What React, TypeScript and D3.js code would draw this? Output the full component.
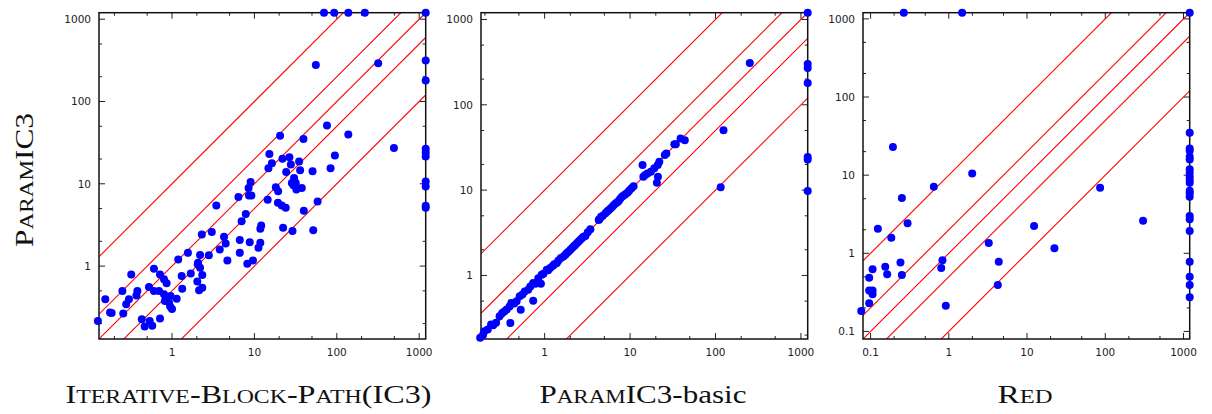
import React from "react";
import * as d3 from "d3";

// ---------- data ----------
const ibpPoints: [number, number][] = [
  [70, 1200], [93, 1200], [138, 1200], [219, 1200], [1200, 1200],
  [1200, 314], [1200, 180], [1200, 26.7], [1200, 24], [1200, 21.5], [1200, 10.7], [1200, 9.3], [1200, 5.4], [1200, 5.1],
  [55.7, 278], [318, 292], [76, 51], [138, 39.8], [494, 27.2], [20.5, 38.4], [39.4, 35], [15.2, 23], [94.8, 22],
  [16.3, 17.8], [14.8, 15.4], [21.9, 20.1], [26.6, 21], [27.7, 17.1], [34.9, 18.7], [24.3, 13.9], [35.9, 14.6],
  [50.8, 14.2], [84, 15.5],
  [9.0, 10.5], [8.5, 8.9], [8.6, 7.2], [6.4, 6.9], [9.2, 7.2], [18.2, 9.1], [19.4, 8.1], [30.3, 11.8], [31.8, 10.25],
  [28.5, 10.25], [29.8, 9.6], [32.3, 8.5], [37.6, 8.9], [14.5, 6.4], [19.3, 5.9], [21.5, 5.44], [24, 5.1], [58.5, 6.1],
  [39.8, 4.7], [3.45, 5.44], [7.86, 4.3], [7.0, 3.5],
  [12.1, 3.11], [11.8, 2.84], [22.3, 2.92], [29, 2.66], [51.8, 2.73], [2.3, 2.42], [3.04, 2.6], [4.28, 2.27], [4.48, 1.88],
  [3.8, 1.59], [6.65, 2.07], [8.78, 1.95], [11.8, 1.92], [11.2, 1.67], [6.65, 1.45], [4.7, 1.17], [8.2, 1.07], [9.6, 1.17],
  [1.56, 1.45], [1.19, 1.2], [2.19, 1.36], [2.8, 1.35], [2.07, 1.1], [2.19, 0.955], [2.05, 1.05], [0.604, 0.93],
  [0.715, 0.79], [0.8, 0.69], [0.86, 0.62], [1.69, 0.815], [1.31, 0.757], [2.33, 0.78], [2.03, 0.65], [2.13, 0.51],
  [2.33, 0.547],
  [0.32, 0.79], [0.25, 0.497], [0.155, 0.395], [0.38, 0.497], [0.37, 0.44], [0.3, 0.395], [0.278, 0.343], [0.525, 0.557],
  [0.604, 0.497], [0.695, 0.497], [0.8, 0.454], [0.86, 0.414], [0.96, 0.433], [0.82, 0.376], [0.95, 0.322], [1.0, 0.3],
  [0.92, 0.36], [1.14, 0.4], [1.33, 0.532],
  [0.177, 0.272], [0.185, 0.27], [0.256, 0.265], [0.126, 0.215], [0.43, 0.226], [0.466, 0.184], [0.536, 0.215],
  [0.576, 0.188], [0.715, 0.23],
];

const basicPoints: [number, number][] = [
  [1200, 1200], [252, 308], [1200, 300], [1200, 270], [1200, 180], [124, 50.4], [1200, 24.5], [1200, 22.9], [1200, 9.75],
  [115, 10.8], [39, 40.3], [43.7, 38.5], [34.3, 34.5], [26.6, 26.9], [25.5, 25.8], [14.0, 19.7], [20.6, 12.2], [21.2, 14.3],
  [0.176, 0.186], [0.19, 0.2], [0.197, 0.222], [0.216, 0.232], [0.236, 0.266], [0.25, 0.26], [0.27, 0.28], [0.297, 0.332],
  [0.319, 0.364], [0.34, 0.38], [0.36, 0.4], [0.389, 0.434], [0.408, 0.476], [0.44, 0.47], [0.47, 0.5], [0.511, 0.569],
  [0.55, 0.6], [0.585, 0.65], [0.642, 0.68], [0.68, 0.74], [0.735, 0.815], [0.78, 0.8], [0.843, 0.93], [0.922, 1.02],
  [0.97, 1.05], [1.06, 1.17], [1.1, 1.15], [1.16, 1.22], [1.25, 1.3], [1.3, 1.35], [1.39, 1.4], [1.45, 1.5], [1.55, 1.6],
  [1.66, 1.67], [1.75, 1.75], [1.82, 1.83], [1.9, 1.9], [2.0, 2.0], [2.1, 2.1], [2.2, 2.2], [2.28, 2.28], [2.4, 2.4],
  [2.5, 2.5], [2.6, 2.6], [2.73, 2.73], [2.85, 2.85], [3.0, 2.9], [3.2, 3.2], [3.43, 3.48],
  [4.3, 4.47], [4.4, 4.6], [4.58, 4.89], [4.8, 5.0], [5.15, 5.35], [5.4, 5.6], [5.6, 5.8], [5.9, 6.1], [6.2, 6.4],
  [6.46, 6.7], [6.8, 7.0], [7.1, 7.2], [7.4, 7.5], [7.7, 8.0], [8.1, 8.4], [8.5, 8.7], [8.9, 9.0], [9.4, 9.4], [9.8, 9.9],
  [10.4, 10.5], [11, 11.1],
  [14.3, 14.3], [15.0, 15.0], [16.0, 15.7], [17.5, 16.4], [19.2, 18.0], [21.1, 19.7], [22.0, 21.5],
  [33.0, 34.5],
  [0.397, 0.277], [0.525, 0.397], [0.735, 0.506], [0.905, 0.8],
];

const redPoints: [number, number][] = [
  [0.266, 1200], [1.48, 1200], [1200, 1200],
  [0.193, 22.9], [1.99, 10.5], [0.643, 7.1], [85.9, 6.9], [0.251, 5.1], [0.297, 2.42], [304, 2.61], [0.124, 2.06],
  [12.3, 2.23], [0.184, 1.58], [3.24, 1.35], [22.4, 1.16], [0.83, 0.814], [4.35, 0.782], [0.241, 0.76], [0.154, 0.675],
  [0.106, 0.624], [0.8, 0.648], [0.163, 0.54], [0.251, 0.528], [0.096, 0.488], [0.096, 0.333], [0.106, 0.333],
  [0.106, 0.3], [4.23, 0.393], [0.096, 0.229], [0.915, 0.213], [0.076, 0.183],
  [1200, 34.8], [1200, 22], [1200, 20.5], [1200, 17.2], [1200, 15.9], [1200, 11.9], [1200, 10.7], [1200, 9.54],
  [1200, 8.66], [1200, 8.0], [1200, 6.3], [1200, 5.85], [1200, 5.3], [1200, 3.0], [1200, 2.72], [1200, 1.93],
  [1200, 0.78], [1200, 0.5], [1200, 0.393], [1200, 0.273],
];

const majorTicksA = [1, 10, 100, 1000];
const majorTicksB = [0.1, 1, 10, 100, 1000];
const minorMultipliers = [2, 5];
const ratioLines = [10, 2, 1, 0.5, 0.1];

type Seg = [string, boolean]; // [text, smallCaps]
const yTitle: Seg[] = [["P", false], ["ARAM", true], ["IC3", false]];
const title1: Seg[] = [["I", false], ["TERATIVE", true], ["-", false], ["B", false], ["LOCK", true], ["-", false], ["P", false], ["ATH", true], ["(IC3)", false]];
const title2: Seg[] = [["P", false], ["ARAM", true], ["IC3-basic", false]];
const title3: Seg[] = [["R", false], ["ED", true]];

// ---------- layout ----------
const W = 1212;
const H = 414;
const TOP = 12.7;
const PW = 326.7;
const PH = 326.3;
const TITLE_SIZE = 26;
const SC = 0.74;

function Title({ segs, x, y, len, transform }: { segs: Seg[]; x: number; y: number; len: number; transform?: string }) {
  return (
    <text
      x={x}
      y={y}
      transform={transform}
      textAnchor="middle"
      fontFamily="'Liberation Serif', 'DejaVu Serif', serif"
      fontSize={TITLE_SIZE}
      fill="#111"
      textLength={len}
      lengthAdjust="spacingAndGlyphs"
    >
      {segs.map(([t, s], i) => (
        <tspan key={i} fontSize={s ? TITLE_SIZE * SC : TITLE_SIZE}>
          {s ? t.toUpperCase() : t}
        </tspan>
      ))}
    </text>
  );
}

function Panel({
  id, left, domain, points, majors, title, titleLen, titleCx,
}: {
  id: string; left: number; domain: [number, number]; points: [number, number][]; majors: number[];
  title: Seg[]; titleLen: number; titleCx: number;
}) {
  const x = d3.scaleLog().domain(domain).range([left, left + PW]);
  const y = d3.scaleLog().domain(domain).range([TOP + PH, TOP]);
  const minors: number[] = [];
  for (let e = -2; e <= 3; e++) {
    for (const m of minorMultipliers) {
      const v = m * Math.pow(10, e);
      if (v > domain[0] && v < domain[1]) minors.push(v);
    }
  }
  const fmt = (v: number) => (v < 1 ? d3.format(".1f")(v) : String(v));
  const x0 = left, x1 = left + PW, y0 = TOP, y1 = TOP + PH;
  const MAJ = 6, MIN = 3;
  const tickStroke = "#222";
  return (
    <g>
      <defs>
        <clipPath id={id}>
          <rect x={x0} y={y0} width={PW} height={PH} />
        </clipPath>
      </defs>
      <g clipPath={`url(#${id})`}>
        {ratioLines.map((k) => (
          <path
            key={"r" + k}
            d={`M${x(domain[0])},${y(domain[0] * k)}L${x(domain[1])},${y(domain[1] * k)}`}
            fill="none"
            stroke="#ff0000"
            strokeWidth={1.1}
          />
        ))}
      </g>
      {/* ticks */}
      {majors.concat(minors).map((v) => {
        const len = majors.includes(v) ? MAJ : MIN;
        const px = x(v), py = y(v);
        return (
          <g key={"t" + v} stroke={tickStroke} strokeWidth={1}>
            <line x1={px} y1={y1} x2={px} y2={y1 - len} />
            <line x1={px} y1={y0} x2={px} y2={y0 + len} />
            <line x1={x0} y1={py} x2={x0 + len} y2={py} />
            <line x1={x1} y1={py} x2={x1 - len} y2={py} />
          </g>
        );
      })}
      <rect x={x0} y={y0} width={PW} height={PH} fill="none" stroke="#111" strokeWidth={1.5} />
      {/* tick labels */}
      <g fontFamily="'DejaVu Sans', sans-serif" fontSize={10.5} fill="#222">
        {majors.map((v) => (
          <text key={"xl" + v} x={x(v)} y={356} textAnchor="middle">{fmt(v)}</text>
        ))}
        {majors.map((v) => (
          <text key={"yl" + v} x={x0 - 8} y={y(v)} dy="0.36em" textAnchor="end">{fmt(v)}</text>
        ))}
      </g>
      {/* points */}
      <g fill="#0000ff">
        {points.map(([a, b], i) => (
          <circle key={i} cx={x(a)} cy={y(b)} r={4} />
        ))}
      </g>
      <Title segs={title} x={titleCx} y={403} len={titleLen} />
    </g>
  );
}

export default function App() {
  return (
    <svg width={W} height={H} style={{ display: "block", position: "absolute", left: 0, top: 0, background: "#fff" }}>
      <rect x={0} y={0} width={W} height={H} fill="#fff" />
      <Title segs={yTitle} x={0} y={0} len={134} transform="translate(33,180) rotate(-90)" />
      <Panel id="c1" left={99} domain={[0.13, 1200]} points={ibpPoints} majors={majorTicksA} title={title1} titleLen={366} titleCx={248.5} />
      <Panel id="c2" left={481} domain={[0.18, 1200]} points={basicPoints} majors={majorTicksA} title={title2} titleLen={207} titleCx={643} />
      <Panel id="c3" left={863} domain={[0.08, 1200]} points={redPoints} majors={majorTicksB} title={title3} titleLen={55} titleCx={1025} />
    </svg>
  );
}
